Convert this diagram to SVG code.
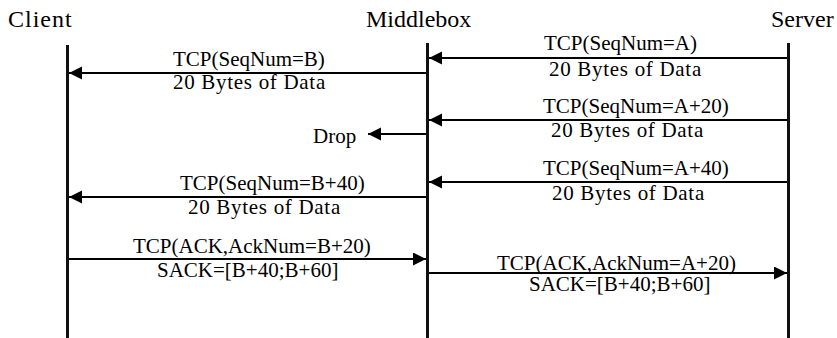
<svg xmlns="http://www.w3.org/2000/svg" width="837" height="338" viewBox="0 0 837 338">
  <style>
    .title { font-family: "Liberation Serif", serif; font-size: 24px; fill: #000; }
    .lbl { font-family: "Liberation Serif", serif; font-size: 21px; fill: #000; }
    .data { letter-spacing: 0.7px; }
    .life { stroke: #111; stroke-width: 3; fill: none; }
    .msg { stroke: #000; stroke-width: 2; fill: none; marker-end: url(#head); }
  </style>
  <defs>
    <marker id="head" markerUnits="userSpaceOnUse" markerWidth="14" markerHeight="14" refX="13" refY="6.5" orient="auto">
      <path d="M0,0 L13,6.5 L0,13 Z" fill="#000"/>
    </marker>
  </defs>
  <rect width="837" height="338" fill="#fff"/>

  <g id="client">
    <text class="title" x="8" y="27" letter-spacing="1">Client</text>
    <line class="life" x1="67.5" y1="45" x2="67.5" y2="338"/>
  </g>
  <g id="middlebox">
    <text class="title" x="366" y="27">Middlebox</text>
    <line class="life" x1="427.5" y1="43" x2="427.5" y2="338"/>
  </g>
  <g id="server">
    <text class="title" x="771" y="27">Server</text>
    <line class="life" x1="788.5" y1="43" x2="788.5" y2="338"/>
  </g>
  <g id="drop">
    <text class="lbl" x="313" y="143">Drop</text>
  </g>

  <g id="connectors">
    <!-- server to middlebox: SeqNum=A -->
    <line class="msg" x1="787" y1="58" x2="429" y2="58"/>
    <text class="lbl" x="544" y="50">TCP(SeqNum=A)</text>
    <text class="lbl data" x="549" y="76">20 Bytes of Data</text>

    <!-- middlebox to client: SeqNum=B -->
    <line class="msg" x1="426" y1="73" x2="69" y2="73"/>
    <text class="lbl" x="173" y="66">TCP(SeqNum=B)</text>
    <text class="lbl data" x="173" y="89">20 Bytes of Data</text>

    <!-- server to middlebox: SeqNum=A+20 -->
    <line class="msg" x1="787" y1="120" x2="429" y2="120"/>
    <text class="lbl" x="543" y="113">TCP(SeqNum=A+20)</text>
    <text class="lbl data" x="551" y="137">20 Bytes of Data</text>

    <!-- middlebox drops the segment -->
    <line class="msg" x1="426" y1="134" x2="368" y2="134"/>

    <!-- server to middlebox: SeqNum=A+40 -->
    <line class="msg" x1="787" y1="182" x2="429" y2="182"/>
    <text class="lbl" x="543" y="175">TCP(SeqNum=A+40)</text>
    <text class="lbl data" x="552" y="200">20 Bytes of Data</text>

    <!-- middlebox to client: SeqNum=B+40 -->
    <line class="msg" x1="426" y1="197" x2="69" y2="197"/>
    <text class="lbl" x="180" y="190">TCP(SeqNum=B+40)</text>
    <text class="lbl data" x="188" y="214">20 Bytes of Data</text>

    <!-- client to middlebox: ACK with SACK -->
    <line class="msg" x1="69" y1="259" x2="426" y2="259"/>
    <text class="lbl" x="133" y="253">TCP(ACK,AckNum=B+20)</text>
    <text class="lbl" x="157" y="277">SACK=[B+40;B+60]</text>

    <!-- middlebox to server: ACK with SACK -->
    <line class="msg" x1="429" y1="273" x2="787" y2="273"/>
    <text class="lbl" x="497" y="270">TCP(ACK,AckNum=A+20)</text>
    <text class="lbl" x="529" y="291">SACK=[B+40;B+60]</text>
  </g>
</svg>
